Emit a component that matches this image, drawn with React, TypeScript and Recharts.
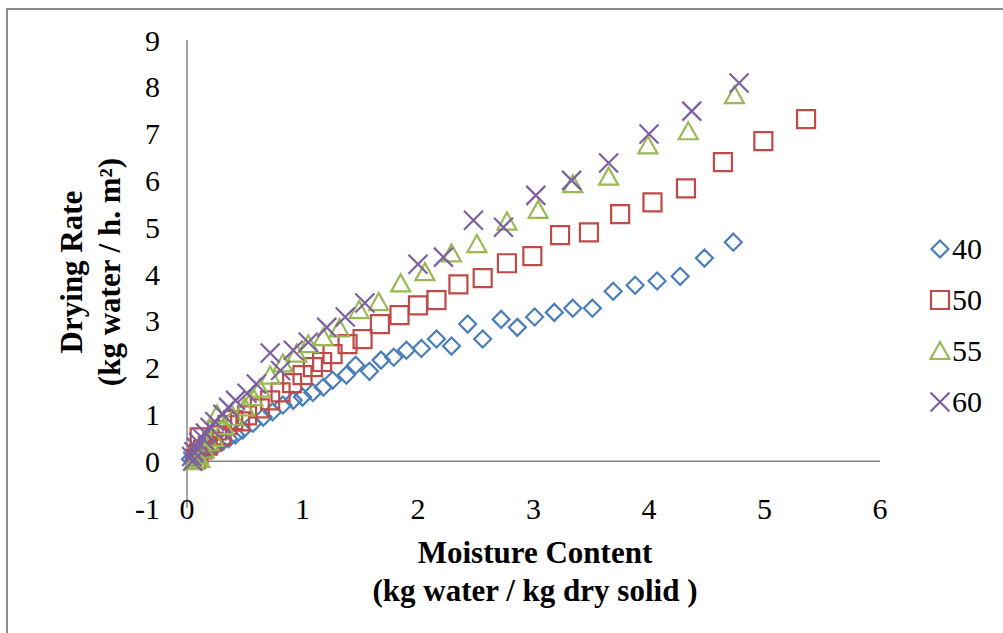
import React from 'react';
import { ScatterChart, Scatter, XAxis, YAxis, ReferenceLine } from 'recharts';

// moisture content (x) and drying rate (y) per drying temperature
const moisture40 = [0.03, 0.06, 0.09, 0.13, 0.17, 0.21, 0.26, 0.31, 0.36, 0.42, 0.48, 0.57, 0.66, 0.74, 0.83, 0.92, 1.0, 1.09, 1.18, 1.26, 1.38, 1.46, 1.58, 1.68, 1.79, 1.9, 2.03, 2.16, 2.29, 2.43, 2.56, 2.72, 2.86, 3.01, 3.18, 3.34, 3.51, 3.69, 3.88, 4.07, 4.27, 4.48, 4.73];
const rate40 = [0.04, 0.08, 0.12, 0.18, 0.23, 0.29, 0.35, 0.42, 0.48, 0.56, 0.66, 0.81, 0.94, 1.05, 1.2, 1.3, 1.37, 1.47, 1.58, 1.73, 1.84, 2.05, 1.92, 2.16, 2.22, 2.37, 2.41, 2.61, 2.46, 2.93, 2.61, 3.03, 2.86, 3.08, 3.18, 3.27, 3.27, 3.63, 3.76, 3.85, 3.95, 4.34, 4.68];

const moisture50 = [0.08, 0.1, 0.11, 0.14, 0.18, 0.22, 0.26, 0.3, 0.35, 0.4, 0.46, 0.52, 0.63, 0.72, 0.81, 0.91, 1.0, 1.09, 1.17, 1.26, 1.39, 1.52, 1.67, 1.84, 2.0, 2.16, 2.35, 2.56, 2.77, 2.99, 3.23, 3.48, 3.75, 4.03, 4.32, 4.64, 4.99, 5.36];
const rate50 = [0.05, 0.15, 0.51, 0.25, 0.33, 0.42, 0.66, 0.55, 0.77, 0.88, 0.85, 0.98, 1.13, 1.3, 1.47, 1.67, 1.84, 2.01, 2.12, 2.29, 2.5, 2.61, 2.93, 3.12, 3.33, 3.44, 3.78, 3.91, 4.23, 4.38, 4.83, 4.89, 5.28, 5.53, 5.83, 6.39, 6.84, 7.31];

const moisture55 = [0.06, 0.08, 0.11, 0.15, 0.19, 0.23, 0.26, 0.32, 0.4, 0.5, 0.57, 0.63, 0.72, 0.83, 0.95, 1.05, 1.18, 1.32, 1.49, 1.66, 1.85, 2.06, 2.29, 2.51, 2.77, 3.04, 3.34, 3.65, 3.99, 4.34, 4.74];
const rate55 = [0.0, 0.12, 0.05, 0.25, 0.4, 0.5, 1.0, 0.75, 0.95, 1.15, 1.37, 1.55, 1.83, 2.09, 2.3, 2.5, 2.65, 2.84, 3.23, 3.4, 3.8, 4.04, 4.44, 4.64, 5.12, 5.37, 5.92, 6.08, 6.75, 7.05, 7.82];

const moisture60 = [0.05, 0.04, 0.06, 0.08, 0.1, 0.13, 0.16, 0.2, 0.24, 0.31, 0.36, 0.42, 0.52, 0.6, 0.72, 0.81, 0.92, 1.05, 1.21, 1.37, 1.54, 2.0, 2.22, 2.48, 2.74, 3.02, 3.33, 3.65, 4.0, 4.37, 4.78];
const rate60 = [0.0, 0.1, 0.2, 0.3, 0.4, 0.5, 0.6, 0.72, 0.85, 1.0, 1.15, 1.3, 1.45, 1.65, 2.31, 1.94, 2.37, 2.54, 2.86, 3.08, 3.38, 4.21, 4.36, 5.15, 5.0, 5.68, 6.0, 6.37, 6.99, 7.48, 8.08];

const xTicks = [0, 1, 2, 3, 4, 5, 6];
const yTicks = [-1, 0, 1, 2, 3, 4, 5, 6, 7, 8, 9];

const FONT = '"Liberation Serif", "Times New Roman", serif';
const AXIS_GRAY = '#868686';

type Kind = 'diamond' | 'square' | 'triangle' | 'cross';

const series: { name: string; xs: number[]; ys: number[]; color: string; kind: Kind }[] = [
  { name: '40', xs: moisture40, ys: rate40, color: '#4A7EBB', kind: 'diamond' },
  { name: '50', xs: moisture50, ys: rate50, color: '#BE4B48', kind: 'square' },
  { name: '55', xs: moisture55, ys: rate55, color: '#98B954', kind: 'triangle' },
  { name: '60', xs: moisture60, ys: rate60, color: '#7D60A0', kind: 'cross' },
];

function markerPath(kind: Kind, cx: number, cy: number) {
  switch (kind) {
    case 'diamond':
      return `M${cx},${cy - 8.5}L${cx + 8.5},${cy}L${cx},${cy + 8.5}L${cx - 8.5},${cy}Z`;
    case 'square':
      return `M${cx - 9},${cy - 9}h18v18h-18Z`;
    case 'triangle':
      return `M${cx},${cy - 9}L${cx + 9.5},${cy + 8}L${cx - 9.5},${cy + 8}Z`;
    default:
      return `M${cx - 9.5},${cy - 9.5}L${cx + 9.5},${cy + 9.5}M${cx + 9.5},${cy - 9.5}L${cx - 9.5},${cy + 9.5}`;
  }
}

const makeShape = (kind: Kind, color: string) => (props: any) => {
  const { cx, cy } = props;
  if (cx == null || cy == null) return <g />;
  return <path d={markerPath(kind, cx, cy)} fill="none" stroke={color} strokeWidth={2.2} />;
};

export default function App() {
  return (
    <div style={{ position: 'absolute', left: 0, top: 0, width: 1003, height: 633, background: '#fff', overflow: 'hidden', fontFamily: FONT }}>
      <div style={{ position: 'absolute', left: 6, top: 8, width: 997, height: 625, borderLeft: '2px solid #8c8c8c', borderTop: '2px solid #8c8c8c', boxSizing: 'border-box' }} />

      <div style={{ position: 'absolute', left: 0, top: 0 }}>
        <ScatterChart width={1003} height={633} margin={{ top: 40, right: 123, bottom: 95, left: 127 }}>
          <XAxis
            type="number"
            dataKey="x"
            domain={[0, 6]}
            ticks={xTicks}
            interval={0}
            height={30}
            axisLine={false}
            tickLine={false}
            tickSize={0}
            tickMargin={-10}
            tick={{ fontSize: 30, fill: '#000', fontFamily: FONT }}
          />
          <YAxis
            type="number"
            dataKey="y"
            domain={[-1, 9]}
            ticks={yTicks}
            interval={0}
            width={60}
            axisLine={{ stroke: AXIS_GRAY, strokeWidth: 1.5 }}
            tickLine={false}
            tickSize={0}
            tickMargin={27}
            tick={{ fontSize: 30, fill: '#000', fontFamily: FONT }}
          />
          <ReferenceLine y={0} stroke={AXIS_GRAY} strokeWidth={1.5} />
          {series.map((s) => (
            <Scatter
              key={s.name}
              name={s.name}
              data={s.xs.map((x, i) => ({ x, y: s.ys[i] }))}
              shape={makeShape(s.kind, s.color)}
              isAnimationActive={false}
            />
          ))}
        </ScatterChart>
      </div>

      {/* legend */}
      <svg style={{ position: 'absolute', left: 920, top: 220 }} width={83} height={210}>
        {series.map((s, i) => (
          <g key={s.name} transform={`translate(0, ${29 + i * 51})`}>
            <path d={markerPath(s.kind, 20, 0)} fill="none" stroke={s.color} strokeWidth={2.2} />
            <text x={32} y={0} dy="0.34em" fontSize={30} fontFamily={FONT} fill="#000">
              {s.name}
            </text>
          </g>
        ))}
      </svg>

      {/* x title */}
      <div style={{ position: 'absolute', left: 285, top: 534, width: 500, textAlign: 'center', fontSize: 31, fontWeight: 'bold', lineHeight: '38px', color: '#000', fontFamily: FONT }}>
        <div>Moisture Content</div>
        <div>(kg water / kg dry solid )</div>
      </div>

      {/* y title */}
      <div
        style={{
          position: 'absolute',
          left: 91 - 200,
          top: 272 - 38,
          width: 400,
          height: 76,
          transform: 'rotate(-90deg)',
          textAlign: 'center',
          fontSize: 31,
          fontWeight: 'bold',
          lineHeight: '38px',
          color: '#000',
          fontFamily: FONT,
        }}
      >
        <div>Drying Rate</div>
        <div>(kg water / h. m²)</div>
      </div>
    </div>
  );
}
